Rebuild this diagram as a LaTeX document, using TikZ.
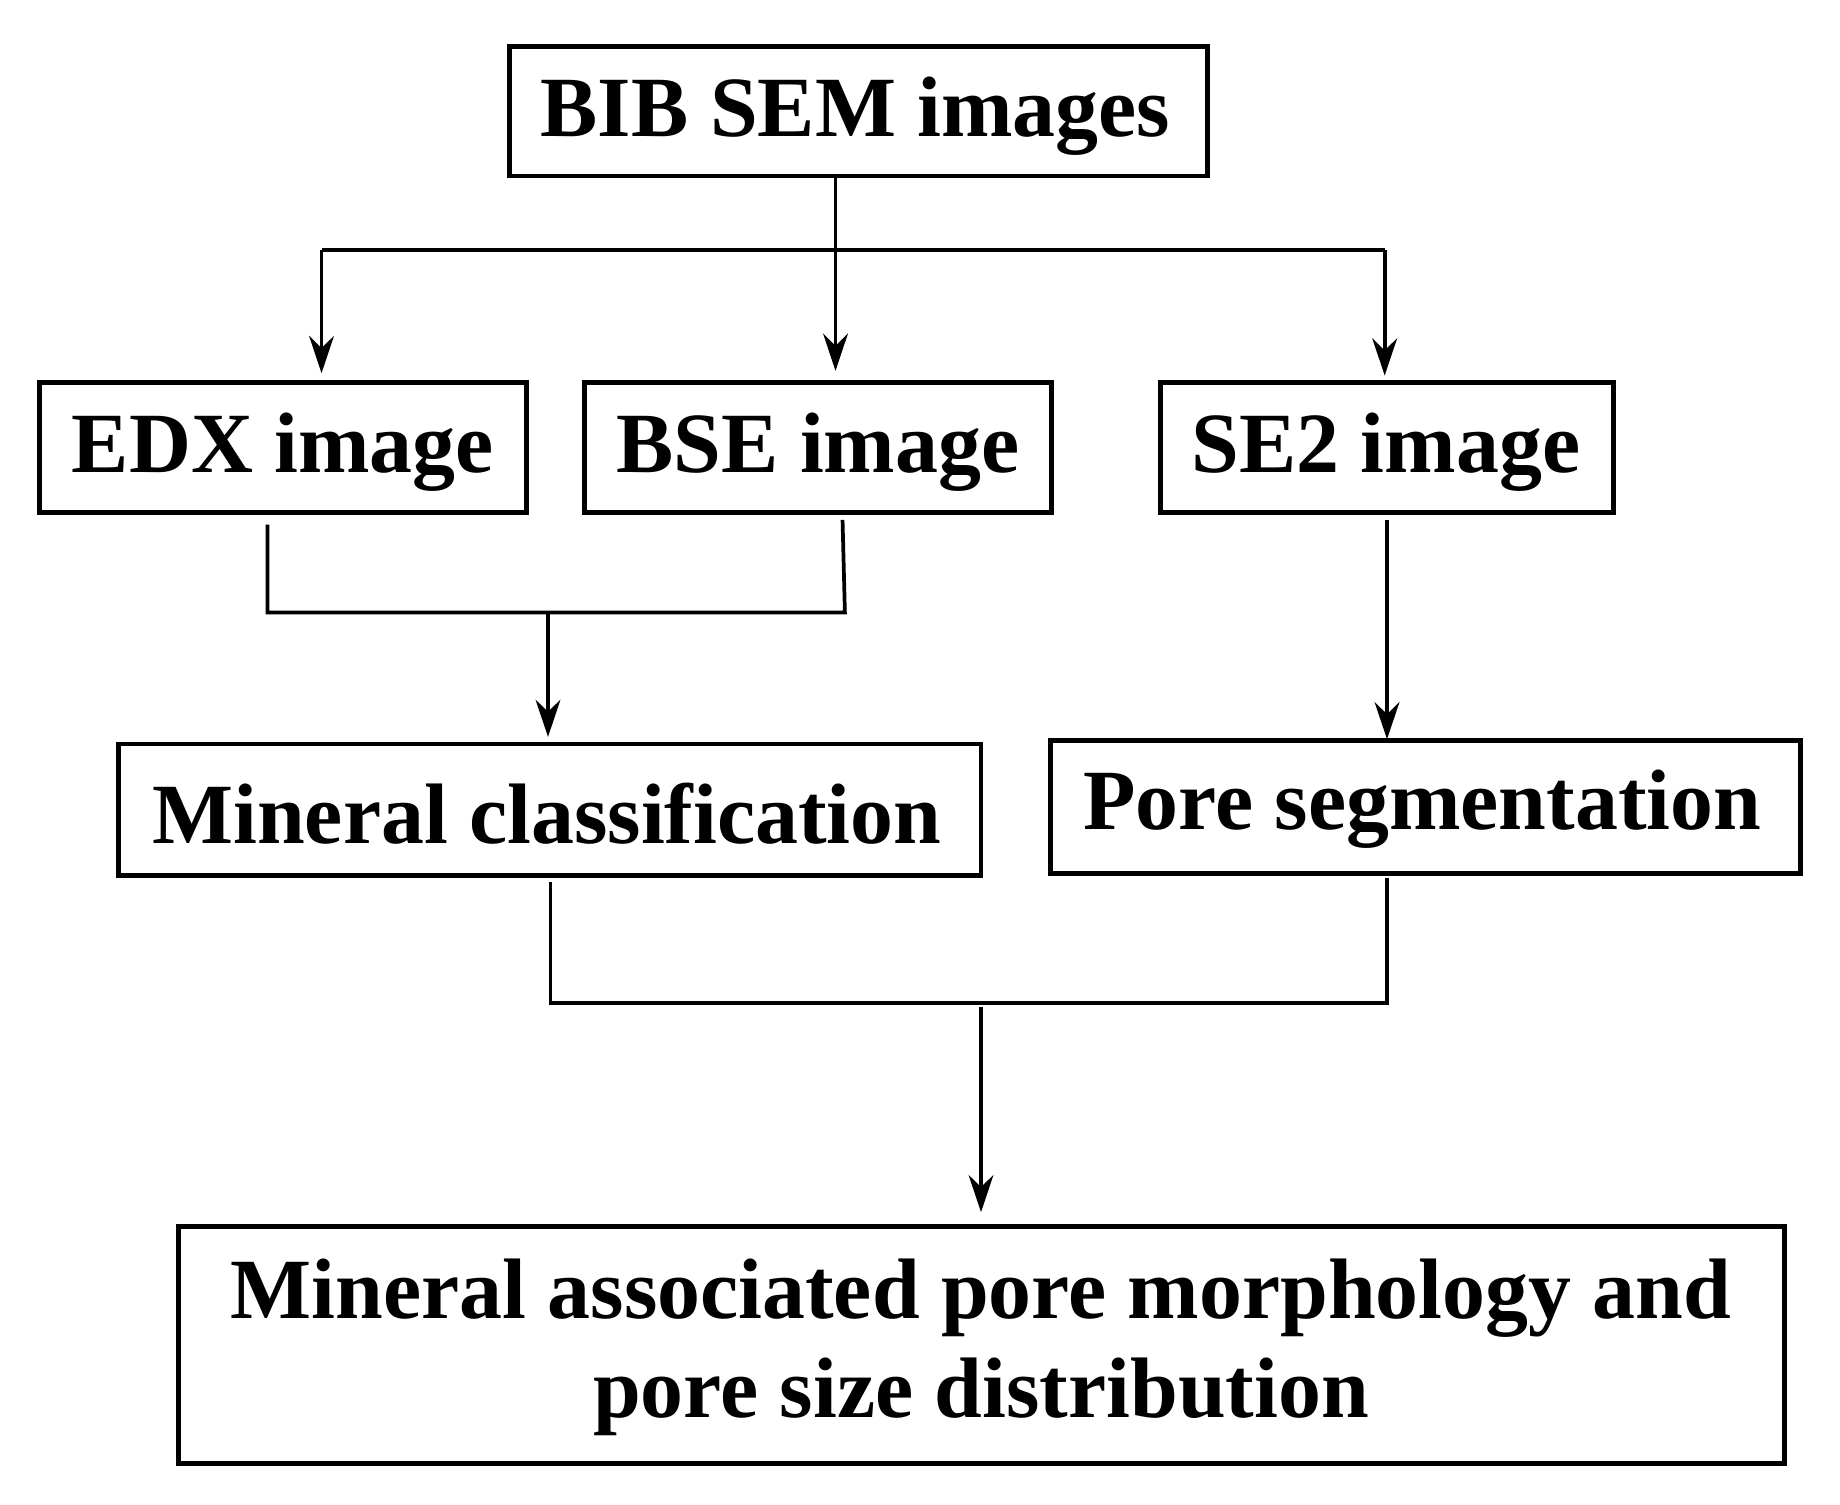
\documentclass[tikz,border=0pt]{standalone}
\usepackage{fontspec}
\setmainfont{Liberation Serif}
\usetikzlibrary{arrows.meta}
\begin{document}
\begin{tikzpicture}[x=0.01cm,y=-0.01cm,
  lbl/.style={font=\fontsize{20.8}{24}\selectfont\bfseries,inner sep=0pt},
  bx/.style={line width=1.2pt},
  ln/.style={line width=0.9pt},
  ar/.style={ln,-{Stealth[length=9pt,width=6pt]}}]
\useasboundingbox (0,0) rectangle (1568,1282);
\draw[bx] (434,40) rectangle (1029,150);
\node[lbl] (bib) at (729,99) {BIB SEM images};
\draw[bx] (34,326) rectangle (449,437);
\node[lbl] (edx) at (241,385) {EDX image};
\draw[bx] (498,326) rectangle (896,437);
\node[lbl] (bse) at (697,385) {BSE image};
\draw[bx] (989,326) rectangle (1375,437);
\node[lbl] (se2) at (1181,385) {SE2 image};
\draw[bx] (101,634) rectangle (836,746);
\node[lbl] (min) at (466,693) {Mineral classification};
\draw[bx] (895,631) rectangle (1534,744);
\node[lbl] (pore) at (1212,690) {Pore segmentation};
\draw[bx] (152,1045) rectangle (1521,1247);
\node[lbl,align=center] (fin) at (836,1148) {Mineral associated pore morphology and\\ pore size distribution};
\draw[ln] (712,152) -- (712,213);
\draw[ar] (712,213) -- (712,316);
\draw[ln] (274,213) -- (1180,213);
\draw[ar] (274,213) -- (274,318);
\draw[ar] (1180,213) -- (1180,320);
\draw[ln] (228,447) -- (228,522) -- (720,522) -- (718,443);
\draw[ar] (467,522) -- (467,628);
\draw[ar] (1182,443) -- (1182,630);
\draw[ln] (469,752) -- (469,855) -- (1182,855) -- (1182,748);
\draw[ar] (836,858) -- (836,1033);
\end{tikzpicture}
\end{document}
